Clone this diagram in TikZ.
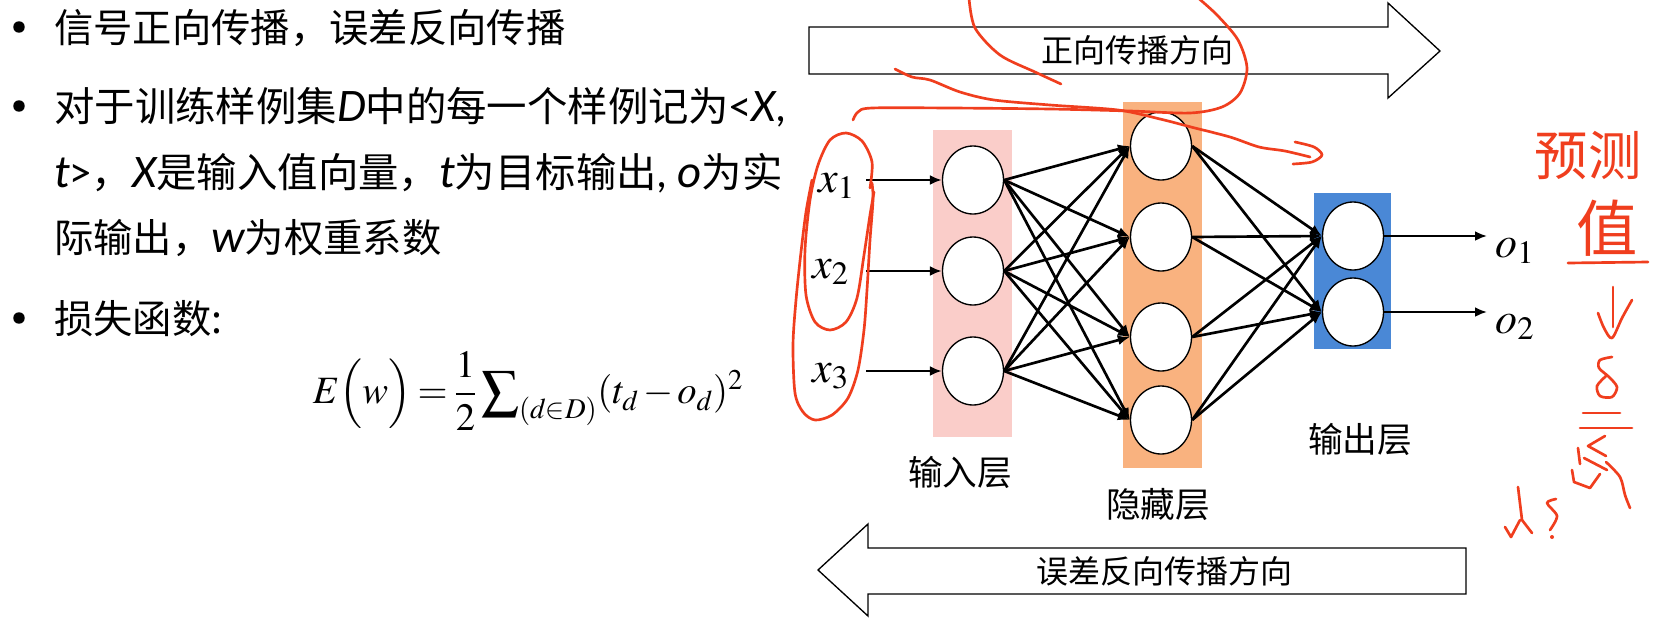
\RequirePackage{fix-cm}
\documentclass[tikz,border=0pt]{standalone}
\usepackage{amsmath}
\usepackage{mathptmx}
\usepackage[no-math]{fontspec}
\setmainfont{Noto Sans CJK SC}
\newfontfamily\latfont{Carlito}
\newcommand{\iv}[1]{{\fontsize{35pt}{38pt}\latfont\itshape #1}}
\newcommand{\lv}[1]{{\fontsize{33pt}{38pt}\latfont #1}}
\usetikzlibrary{arrows.meta,shapes.geometric}
\definecolor{pinkl}{RGB}{250,205,201}
\definecolor{orangel}{RGB}{249,178,127}
\definecolor{bluel}{RGB}{74,136,214}
\definecolor{redink}{RGB}{240,62,30}
\begin{document}
\begin{tikzpicture}[x=0.75pt,y=-0.75pt,
  txt/.style={anchor=west,inner sep=0,text height=24.5pt,text depth=2.1pt,font=\fontsize{29.5pt}{36pt}\selectfont},
  txtw/.style={txt,font=\fontsize{30.3pt}{36pt}\selectfont},
  lbl/.style={inner sep=0,font=\fontsize{26pt}{30pt}\selectfont},
  dirtxt/.style={inner sep=0,font=\fontsize{24pt}{28pt}\selectfont},
  neuron/.style={ellipse,draw=black,line width=1pt,fill=white,minimum width=45.75pt,minimum height=51pt,inner sep=0},
  conn/.style={line width=2pt,-{Latex[length=9pt,width=7.5pt]}},
  bigarrow/.style={draw=black,line width=1pt,fill=white,line join=miter},
  redpen/.style={draw=redink,line width=2pt,line cap=round,line join=round},
  mlbl/.style={anchor=base west,inner sep=0,font=\fontsize{33pt}{38pt}\selectfont},
  redtxt/.style={inner sep=0,text=redink},
]
\fill[white] (0,0) rectangle (1663,625);
\useasboundingbox (0,0) rectangle (1663,625);

% ---------- left text ----------
\foreach \yy in {27,106,318} {\fill (19,\yy) circle (4.3pt);}
\node[txt] (t1) at (54,28) {信号正向传播，误差反向传播};
\node[txtw] (t2) at (54,107) {对于训练样例集\iv{D}中的每一个样例记为\lv{<}\iv{X}\lv{,}};
\node[txtw] (t3) at (54,173) {\iv{t}\lv{>}，\iv{X}是输入值向量，\iv{t}为目标输出\lv{, }\iv{o}为实};
\node[txt] (t4) at (54,238) {际输出，\iv{w}为权重系数};
\node[txt] (t5) at (54,319) {损失函数:};
\node[inner sep=0,font=\fontsize{29pt}{40pt}\selectfont] (eq) at (528,391)
  {\thickmuskip=3mu\medmuskip=2mu$E\Bigl(w\Bigr)=\dfrac{1}{2}\mathop{\vcenter{\hbox{\fontsize{40pt}{42pt}\selectfont$\sum$}}}\nolimits_{(d\in D)}(t_d-o_d)^2$};

% ---------- direction arrows ----------
\draw[bigarrow] (809,27) -- (1388,27) -- (1388,3) -- (1440,51) -- (1388,98) -- (1388,74) -- (809,74) -- cycle;
\node[dirtxt] (fwd) at (1137,50) {正向传播方向};
\draw[bigarrow] (1466,548) -- (868,548) -- (868,524) -- (818,570) -- (868,616) -- (868,594) -- (1466,594) -- cycle;
\node[dirtxt] (bwd) at (1164,571) {误差反向传播方向};

% ---------- layer backgrounds ----------
\fill[pinkl] (933,130) rectangle (1012,437);
\fill[orangel] (1123,102) rectangle (1202,468);
\fill[bluel] (1314,193) rectangle (1391,349);

% ---------- neurons ----------
\node[neuron] (i1) at (973,180) {};
\node[neuron] (i2) at (973,271) {};
\node[neuron] (i3) at (973,371) {};
\node[neuron] (h1) at (1161,146) {};
\node[neuron] (h2) at (1161,237) {};
\node[neuron] (h3) at (1161,337) {};
\node[neuron] (h4) at (1161,420) {};
\node[neuron] (out1) at (1353,236) {};
\node[neuron] (out2) at (1353,312) {};

\foreach \a in {1,2,3} {\foreach \b in {1,2,3,4} {\draw[conn] (i\a.east) -- (h\b.west);}}
\foreach \a in {1,2,3,4} {\foreach \b in {1,2} {\draw[conn] (h\a.east) -- (out\b.west);}}

% ---------- input / output labels ----------
\node[mlbl] (lx1) at (818,192) {$x_1$};
\node[mlbl] (lx2) at (812,278) {$x_2$};
\node[mlbl] (lx3) at (812,382) {$x_3$};
\coordinate (s1) at (866,180);
\coordinate (s2) at (866,271);
\coordinate (s3) at (866,371);
\draw[conn] (s1) -- (i1.west);
\draw[conn] (s2) -- (i2.west);
\draw[conn] (s3) -- (i3.west);
\coordinate (e1) at (1487,236);
\coordinate (e2) at (1487,312);
\draw[conn] (out1.east) -- (e1);
\draw[conn] (out2.east) -- (e2);
\node[mlbl] (lo1) at (1495,257) {$o_1$};
\node[mlbl] (lo2) at (1495,333) {$o_2$};

\node[lbl] (lin) at (960,472) {输入层};
\node[lbl] (lhid) at (1158,504) {隐藏层};
\node[lbl] (lout) at (1360,439) {输出层};

% ---------- red handwriting ----------
\draw[redpen] plot[smooth] coordinates {(969,-2) (975,28) (1000,55) (1035,72) (1061,84)};
\draw[redpen] plot[smooth] coordinates {(853,120) (858,112) (872,108) (950,108) (1050,109) (1130,111) (1190,113) (1222,107) (1240,93) (1247,68) (1238,40) (1217,15) (1197,-3)};
\draw[redpen] plot[smooth] coordinates {(895,69) (912,77) (930,80) (960,92) (994,100) (1050,105) (1118,110) (1160,119) (1191,127) (1230,137) (1259,147) (1285,151) (1310,157)};
\draw[redpen] plot[smooth] coordinates {(1295,142) (1314,147) (1322,155) (1312,162) (1293,164)};
% loops round the inputs
\draw[redpen] plot[smooth] coordinates {(870,188) (872,162) (862,141) (846,133) (830,140) (818,165) (810,200) (805,250) (806,295) (815,322) (830,330) (846,322) (857,298) (864,255) (870,215) (874,192)};
\draw[redpen] plot[smooth] coordinates {(812,180) (806,212) (801,252) (796,300) (793,345) (795,393) (803,412) (815,420) (832,415) (848,398) (858,370) (864,330) (867,290) (870,240) (873,200) (872,183)};
% right-hand notes
\node[redtxt,font=\fontsize{40pt}{44pt}\selectfont] (n1) at (1588,155) {预测};
\node[redtxt,font=\fontsize{46pt}{50pt}\selectfont] (n2) at (1607,228) {值};
\draw[redpen] (1568,263) -- (1648,262);
\draw[redpen] (1613,287) -- (1613,327);
\draw[redpen] plot[smooth] coordinates {(1598,313) (1604,328) (1612,338) (1622,318) (1632,300)};
\draw[redpen] plot[smooth] coordinates {(1612,357) (1600,360) (1599,368) (1609,377) (1617,387) (1612,397) (1600,396) (1597,386) (1606,376)};
\draw[redpen] (1583,413) -- (1620,413);
\draw[redpen] (1580,428) -- (1632,428);
\draw[redpen] (1605,436) -- (1588,446) -- (1606,456);
\draw[redpen] (1578,448) -- (1580,464);
\draw[redpen] (1584,458) -- (1607,470);
\draw[redpen] (1572,470) -- (1574,482) -- (1590,488) -- (1600,474);
\draw[redpen] plot[smooth] coordinates {(1606,462) (1620,477) (1625,495) (1630,508)};
\draw[redpen] (1518,487) -- (1522,520) -- (1532,533);
\draw[redpen] (1505,527) -- (1511,537) -- (1520,520);
\draw[redpen] plot[smooth] coordinates {(1556,499) (1547,503) (1557,516) (1550,530)};
\fill[redink] (1552,537) circle (1.5pt);
\end{tikzpicture}
\end{document}
